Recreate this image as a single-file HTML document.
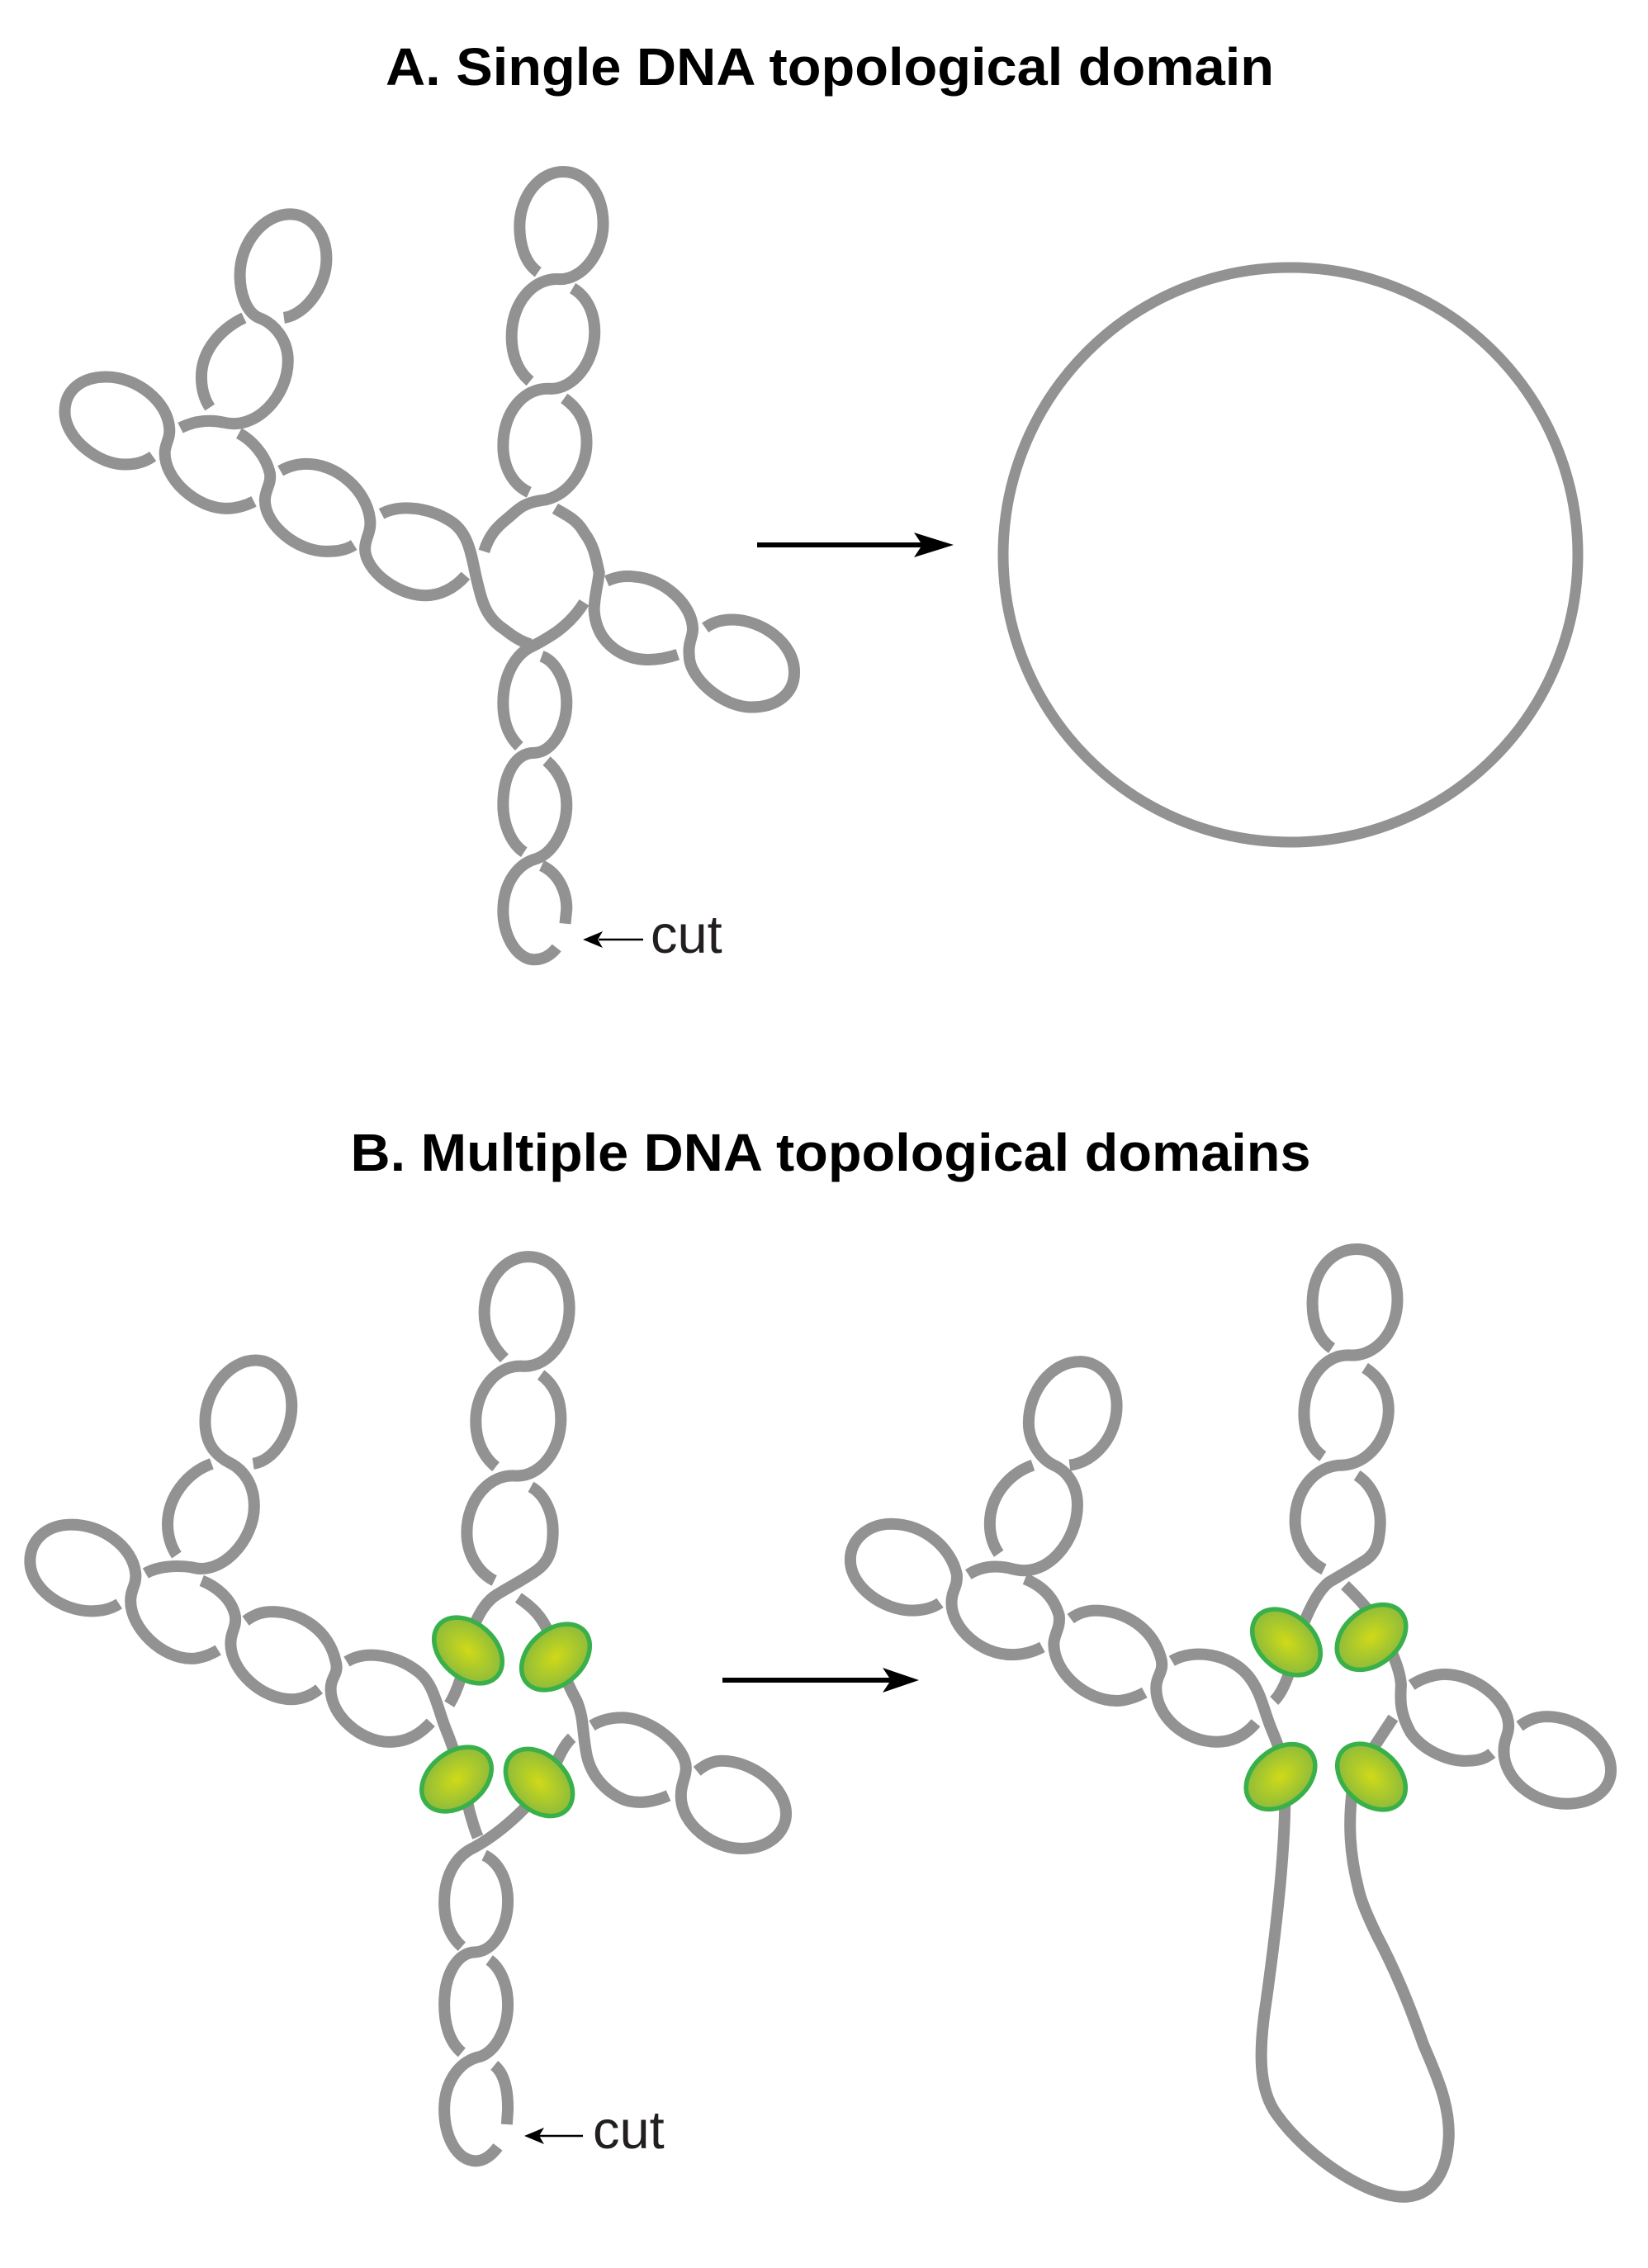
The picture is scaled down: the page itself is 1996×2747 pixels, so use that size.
<!DOCTYPE html>
<html>
<head>
<meta charset="utf-8">
<style>
html,body{margin:0;padding:0;background:#fff}
svg{display:block}
.s path{fill:none;stroke:#929292;stroke-width:14;vector-effect:non-scaling-stroke;stroke-linecap:butt;stroke-linejoin:round}
text{font-family:"Liberation Sans",sans-serif}
.t{font-weight:bold;font-size:64px;fill:#000}
.c{font-size:65px;fill:#231f20}
.e{fill:url(#g);stroke:#39b04a;stroke-width:5.5}
</style>
</head>
<body>
<svg xmlns="http://www.w3.org/2000/svg" width="1996" height="2747" viewBox="0 0 1996 2747">
<defs>
<radialGradient id="g" cx="50%" cy="50%" r="55%">
<stop offset="0" stop-color="#d0da18"/>
<stop offset="1" stop-color="#88b93e"/>
</radialGradient>
</defs>
<rect width="1996" height="2747" fill="#fff"/>
<text class="t" x="1005" y="103" text-anchor="middle" textLength="1076" lengthAdjust="spacingAndGlyphs">A. Single DNA topological domain</text>
<text class="t" x="1006" y="1418" text-anchor="middle" textLength="1163" lengthAdjust="spacingAndGlyphs">B. Multiple DNA topological domains</text>

<!-- A left -->
<g class="s" transform="translate(50,180) scale(0.606,0.6505)">
<path d="M993,230 C965,212 956,175 956,145 C956,90 995,43 1043,43 C1090,43 1123,85 1123,140 C1123,195 1080,245 1035,243 C985,240 940,285 940,350 C940,385 953,415 977,433"/>
<path d="M1062,260 C1090,275 1106,305 1106,342 C1106,395 1065,450 1015,447 C965,445 923,490 923,553 C923,590 940,625 975,640"/>
<path d="M1045,465 C1075,485 1090,510 1090,547 C1090,600 1050,650 1000,655 C960,660 950,675 930,690 C910,705 895,720 885,750"/>
<path d="M1027,670 C1050,683 1070,690 1085,715 C1105,740 1108,760 1115,790 C1112,815 1105,835 1105,860 C1108,900 1130,925 1160,940 C1190,955 1230,955 1272,942"/>
<path d="M1130,805 C1150,797 1165,795 1185,797 C1245,800 1302,850 1302,895 C1302,910 1292,920 1295,945 C1295,985 1360,1040 1420,1040 C1470,1040 1505,1015 1505,975 C1505,920 1440,877 1380,877 C1360,877 1342,882 1327,892"/>
<path d="M680,680 C720,660 780,670 820,695 C860,720 860,770 875,820 C885,860 900,880 925,895 C945,910 960,918 978,923"/>
<path d="M1085,845 C1055,890 1015,910 985,925 C945,940 923,985 923,1032 C923,1070 935,1095 955,1113"/>
<path d="M1000,945 C1030,955 1050,995 1050,1032 C1050,1080 1020,1125 985,1125 C945,1125 923,1170 923,1222 C923,1260 940,1295 965,1310"/>
<path d="M1010,1140 C1035,1160 1050,1190 1050,1222 C1050,1265 1025,1310 990,1322 C950,1332 923,1370 923,1420 C923,1465 950,1510 985,1510 C1005,1510 1020,1500 1030,1488"/>
<path d="M1000,1335 C1035,1350 1050,1385 1050,1415 L1047,1443"/>
<path d="M848,795 C825,820 795,832 768,832 C710,832 647,785 647,745 C647,725 660,715 657,690 C650,635 590,587 530,587 C510,587 493,592 478,600"/>
<path d="M625,738 C608,748 590,750 570,750 C510,750 447,700 447,655 C447,635 460,625 457,605 C450,575 425,545 395,530"/>
<path d="M425,657 C408,665 390,670 370,670 C310,670 245,615 247,565 C248,548 258,540 256,520 C252,470 190,425 130,425 C80,425 47,450 47,490 C47,540 115,590 170,588 C190,588 208,583 223,573"/>
<path d="M278,520 C310,505 340,505 365,510 C430,525 493,460 493,395 C493,355 465,325 435,315 C410,305 397,270 397,235 C397,175 445,122 497,122 C540,122 570,158 570,205 C570,260 525,310 485,315"/>
<path d="M405,315 C360,335 320,375 320,425 C320,450 327,468 337,482"/>
</g>

<!-- A arrow and circle -->
<line x1="917" y1="660" x2="1122" y2="660" stroke="#000" stroke-width="6"/>
<polygon points="1158,660 1110,645 1120,660 1110,675" transform="translate(-3,0)" fill="#000"/>
<circle cx="1563" cy="672" r="348" fill="none" stroke="#929292" stroke-width="13"/>

<!-- A cut -->
<line x1="725" y1="1138" x2="779" y2="1138" stroke="#000" stroke-width="2.5"/>
<polygon points="706,1138 730,1128 724,1138 730,1148" fill="#000"/>
<text class="c" x="788" y="1154">cut</text>

<!-- B left -->
<g class="s" transform="translate(20,1500) scale(0.606,0.7375)">
<path d="M975,197 C955,180 935,155 935,122 C935,70 975,30 1023,30 C1070,30 1105,65 1105,115 C1105,165 1065,210 1015,210 C960,205 918,250 918,300 C918,335 935,360 958,375"/>
<path d="M1048,224 C1075,240 1088,265 1088,297 C1088,345 1050,390 1000,390 C945,385 900,430 900,483 C900,520 925,550 955,562"/>
<path d="M1028,408 C1055,420 1072,450 1072,480 C1072,510 1065,530 1040,545 C1015,560 985,572 960,585 C940,595 925,615 915,635 C900,670 895,725 865,765"/>
<path d="M1003,590 C1030,605 1050,620 1065,650 C1085,700 1100,730 1120,760 C1135,790 1130,810 1140,850 C1150,885 1180,910 1215,922 C1245,930 1275,925 1303,915"/>
<path d="M1150,800 C1170,790 1190,787 1210,787 C1270,787 1338,835 1338,870 C1338,885 1328,895 1328,915 C1328,965 1395,1002 1450,1002 C1505,1002 1538,975 1538,945 C1538,900 1470,858 1410,858 C1390,858 1375,865 1360,875"/>
<path d="M660,695 C700,675 760,685 800,710 C835,730 840,770 860,810 C880,850 895,900 905,940 C910,955 915,970 922,983"/>
<path d="M1110,820 C1090,835 1080,860 1060,895 C1020,935 970,975 915,1000 C875,1015 855,1050 855,1090 C855,1120 865,1145 890,1163"/>
<path d="M935,1013 C965,1025 982,1055 982,1088 C982,1130 955,1170 918,1172 C880,1172 855,1210 855,1258 C855,1290 865,1320 890,1337"/>
<path d="M945,1185 C970,1200 982,1230 982,1258 C982,1300 955,1340 920,1345 C880,1355 855,1390 855,1430 C855,1475 880,1515 918,1515 C935,1515 950,1505 962,1492"/>
<path d="M955,1358 C980,1375 982,1410 982,1430 L980,1455"/>
<path d="M828,795 C805,815 780,827 745,827 C690,827 628,785 628,740 C628,720 645,715 638,695 C625,645 570,613 510,613 C490,613 475,618 458,628"/>
<path d="M605,740 C590,750 570,757 550,757 C490,757 428,710 428,665 C428,645 440,640 437,620 C430,590 395,570 370,562"/>
<path d="M403,676 C385,685 365,690 350,690 C290,690 228,640 228,595 C228,575 240,570 238,550 C232,505 170,470 110,470 C60,470 27,495 27,530 C27,575 90,612 150,612 C170,612 190,608 205,600"/>
<path d="M258,550 C285,537 325,537 350,540 C410,555 475,495 475,440 C475,405 455,380 425,368 C395,355 377,335 377,300 C377,250 425,200 478,200 C520,200 550,235 550,275 C550,320 515,365 473,370"/>
<path d="M390,370 C340,385 302,425 302,470 C302,490 310,508 320,520"/>
</g>
<ellipse class="e" cx="567" cy="1999" rx="47" ry="33" transform="rotate(42 567 1999)"/>
<ellipse class="e" cx="673" cy="2007" rx="47" ry="33" transform="rotate(-42 673 2007)"/>
<ellipse class="e" cx="553" cy="2155" rx="47" ry="33" transform="rotate(-38 553 2155)"/>
<ellipse class="e" cx="653" cy="2159" rx="47" ry="33" transform="rotate(45 653 2159)"/>

<!-- B cut -->
<line x1="652" y1="2594" x2="706" y2="2594" stroke="#000" stroke-width="2.5" transform="translate(0,-7)"/>
<polygon points="635,2594 659,2584 653,2594 659,2604" fill="#000" transform="translate(0,-7)"/>
<text class="c" x="718" y="2602">cut</text>

<!-- B arrow -->
<line x1="877" y1="2035" x2="1085" y2="2035" stroke="#000" stroke-width="6" transform="translate(-2,0)"/>
<polygon points="1116,2035 1072,2020 1082,2035 1072,2050" fill="#000" transform="translate(-3,0)"/>

<!-- B right -->
<g class="s" transform="translate(1000,1490) scale(0.6353,0.7651)">
<path d="M965,187 C935,170 928,140 928,115 C928,65 965,30 1012,30 C1060,30 1090,65 1090,110 C1090,160 1050,200 1000,198 C950,195 912,240 912,290 C912,320 925,345 948,358"/>
<path d="M1028,218 C1060,235 1075,260 1073,290 C1070,330 1035,370 985,372 C935,372 895,410 895,460 C895,495 920,525 950,537"/>
<path d="M1013,388 C1045,405 1060,440 1057,470 C1055,495 1050,510 1030,522 C1005,535 985,545 960,557 C940,570 925,595 910,625 C895,660 885,720 855,745"/>
<path d="M990,562 C1015,582 1035,600 1050,620 C1070,650 1095,690 1097,720 C1095,745 1095,765 1115,795 C1140,825 1190,842 1225,840 C1245,840 1260,835 1270,828"/>
<path d="M1117,720 C1135,710 1160,703 1180,703 C1240,703 1302,745 1302,785 C1302,800 1293,805 1293,825 C1293,870 1350,908 1412,908 C1465,908 1497,885 1497,855 C1497,810 1435,770 1375,770 C1355,770 1340,775 1323,785"/>
<path d="M660,682 C700,662 770,670 805,705 C830,730 835,760 850,790 C860,810 870,830 875,860 C880,960 860,1100 840,1220 C825,1300 825,1360 860,1400 C920,1470 1040,1535 1110,1530 C1160,1525 1185,1490 1188,1435 C1190,1380 1160,1330 1140,1290 C1110,1220 1085,1170 1050,1115 C1030,1080 1020,1060 1015,1040 C1000,990 995,940 1005,880"/>
<path d="M1082,772 L1040,825"/>
<path d="M820,780 C800,800 775,810 745,810 C685,810 630,770 630,725 C630,705 645,700 640,680 C625,630 570,602 515,602 C495,602 480,607 467,615"/>
<path d="M608,732 C590,740 570,745 555,745 C495,745 435,700 435,655 C435,640 448,630 445,610 C435,580 410,562 380,552"/>
<path d="M413,660 C395,668 375,672 355,672 C295,672 240,630 240,590 C240,570 252,565 250,545 C240,505 190,465 125,465 C80,465 47,490 47,522 C47,565 110,602 165,602 C185,602 205,598 218,590"/>
<path d="M272,545 C300,530 330,530 360,537 C425,550 480,490 480,435 C480,405 462,382 435,372 C410,362 387,335 387,305 C387,255 430,208 485,208 C525,208 555,240 555,278 C555,325 515,367 465,372"/>
<path d="M395,372 C350,385 313,420 313,465 C313,485 320,500 330,512"/>
</g>
<ellipse class="e" cx="1558" cy="1989" rx="47" ry="33" transform="rotate(42 1558 1989)"/>
<ellipse class="e" cx="1661" cy="1983" rx="47" ry="33" transform="rotate(-40 1661 1983)"/>
<ellipse class="e" cx="1551" cy="2152" rx="47" ry="33" transform="rotate(-40 1551 2152)"/>
<ellipse class="e" cx="1661" cy="2152" rx="47" ry="33" transform="rotate(42 1661 2152)"/>
</svg>
</body>
</html>
